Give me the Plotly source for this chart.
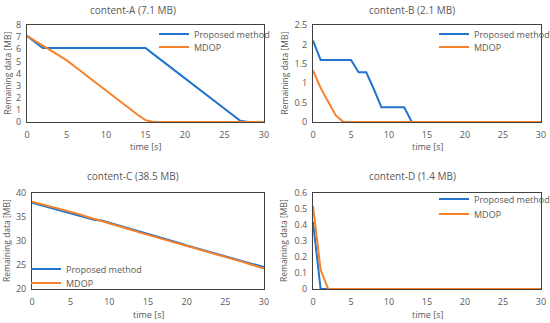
import plotly.graph_objects as go

t = list(range(0, 31))

# content-A
a_prop = [7.1, 6.6, 6.1] + [6.1]*13 + [5.6, 5.1, 4.6, 4.1, 3.6, 3.1, 2.6, 2.1, 1.6, 1.1, 0.6, 0.1, 0.0, 0.0, 0.0]
a_mdop = [7.1, 6.7, 6.25, 5.9, 5.5, 5.1, 4.6, 4.1, 3.6, 3.1, 2.6, 2.05, 1.55, 1.05, 0.6, 0.15] + [0.0]*15
# content-B
b_prop = [2.1, 1.6, 1.6, 1.6, 1.6, 1.6, 1.28, 1.28, 0.85, 0.38, 0.38, 0.38, 0.38, 0.0] + [0.0]*17
b_mdop = [1.33, 0.88, 0.52, 0.17, 0.0] + [0.0]*26
# content-C
c_prop = [38.0, 37.55, 37.1, 36.7, 36.3, 35.85, 35.4, 35.0, 34.4, 34.25, 33.8, 33.3, 32.8, 32.35, 31.95, 31.5, 31.05, 30.6, 30.2,
          29.6, 29.05, 28.6, 28.2, 27.75, 27.3, 26.8, 26.3, 25.85, 25.4, 24.95, 24.55]
c_mdop = [38.2, 37.8, 37.4, 37.0, 36.6, 36.15, 35.65, 35.1, 34.65, 34.2, 33.7, 33.2, 32.7, 32.25, 31.75, 31.3, 30.85, 30.4, 29.95,
          29.5, 29.0, 28.55, 28.1, 27.65, 27.2, 26.75, 26.25, 25.75, 25.25, 24.75, 24.25]
# content-D
d_prop = [0.42, 0.0] + [0.0]*29
d_mdop = [0.52, 0.12, 0.0] + [0.0]*28

titles = ["content-A (7.1 MB)", "content-B (2.1 MB)", "content-C (38.5 MB)", "content-D (1.4 MB)"]
series_names = ["Proposed method", "MDOP"]
y_ranges = [(0, 8, 1), (0, 2.5, 0.5), (20, 40, 5), (0, 0.6, 0.1)]

BLUE = "#2274CC"
ORANGE = "#F7812B"
GRAY = "#595959"
FONT = "Open Sans"

W, H = 550, 323
def px(x): return x / W
def py(y): return 1 - y / H

domains = [
    ((27, 264), (25, 122)),
    ((313, 541), (25, 122)),
    ((32, 264), (193, 289)),
    ((313, 541), (193, 289)),
]
title_pos = [(133, 10), (412, 10), (133, 176), (412, 176)]
xtitle_y = [147, 147, 314, 314]
ytitle_x = [7, 284, 7, 284]
# legend x (left) and the y centre of each of the two entries
legend_x = [154, 434, 26, 434]
legend_y = [(34, 47), (34, 47), (269, 283), (199, 214)]

data = [(a_prop, a_mdop), (b_prop, b_mdop), (c_prop, c_mdop), (d_prop, d_mdop)]
colors = [BLUE, ORANGE]

fig = go.Figure()
layout = dict(
    width=W, height=H, margin=dict(l=0, r=0, t=0, b=0, autoexpand=False),
    paper_bgcolor="white", plot_bgcolor="white", showlegend=True,
    font=dict(family=FONT, size=9, color=GRAY),
    annotations=[],
)

leg_idx = 0
for i in range(4):
    suffix = "" if i == 0 else str(i + 1)
    xa = "x" + suffix
    ya = "y" + suffix
    for s in range(2):
        leg_idx += 1
        leg = "legend" if leg_idx == 1 else "legend" + str(leg_idx)
        fig.add_trace(go.Scatter(x=t, y=data[i][s], mode="lines", name=series_names[s], showlegend=True,
                                 line=dict(color=colors[s], width=2), xaxis=xa, yaxis=ya, legend=leg))
        layout[leg] = dict(
            x=px(legend_x[i]), y=py(legend_y[i][s]), xanchor="left", yanchor="middle",
            bgcolor="rgba(0,0,0,0)", font=dict(size=9, color=GRAY, family=FONT),
            itemwidth=30, borderwidth=0, visible=True,
        )
    (x0, x1), (y0, y1) = domains[i]
    ymin, ymax, dt = y_ranges[i]
    layout["xaxis" + suffix] = dict(
        domain=[px(x0), px(x1)], range=[0, 30], tick0=0, dtick=5, automargin=False,
        showgrid=False, zeroline=False, showline=True, linecolor="#404040", linewidth=1,
        mirror=True, ticks="", ticklabelstandoff=4, tickfont=dict(size=9, color=GRAY), anchor=ya,
    )
    layout["yaxis" + suffix] = dict(
        domain=[py(y1), py(y0)], range=[ymin, ymax], tick0=ymin, dtick=dt, automargin=False,
        showgrid=False, zeroline=False, showline=True, linecolor="#404040", linewidth=1,
        mirror=True, ticks="", ticklabelstandoff=3, tickfont=dict(size=9, color=GRAY), anchor=xa,
    )
    tx, ty = title_pos[i]
    layout["annotations"].append(dict(text=titles[i], x=px(tx), y=py(ty), xref="paper", yref="paper",
                                      showarrow=False, font=dict(size=10, color=GRAY, family=FONT),
                                      xanchor="center", yanchor="middle"))
    layout["annotations"].append(dict(text="time [s]", x=px((x0 + x1) / 2), y=py(xtitle_y[i]), xref="paper", yref="paper",
                                      showarrow=False, font=dict(size=9, color=GRAY, family=FONT),
                                      xanchor="center", yanchor="middle"))
    layout["annotations"].append(dict(text="Remaining data [MB]", x=px(ytitle_x[i]), y=py((y0 + y1) / 2), xref="paper", yref="paper",
                                      showarrow=False, textangle=-90, font=dict(size=8.5, color=GRAY, family=FONT),
                                      xanchor="center", yanchor="middle"))

fig.update_layout(**layout)
fig.write_html("out.html", config={"displayModeBar": False},
               post_script="document.body.style.margin='0';")
